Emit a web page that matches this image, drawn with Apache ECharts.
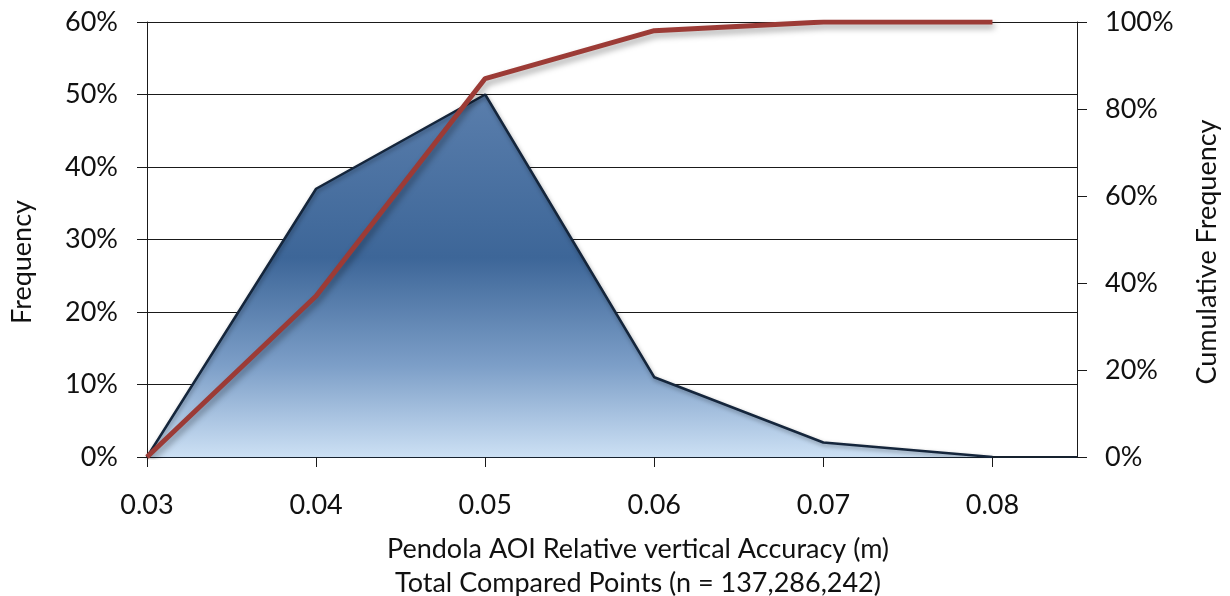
<!DOCTYPE html>
<html>
<head>
<meta charset="utf-8">
<script src="https://cdn.jsdelivr.net/npm/echarts@6/dist/echarts.min.js"></script>
<style>
  html, body { margin: 0; padding: 0; background: #ffffff; }
  #chart { width: 1230px; height: 596px; }
</style>
</head>
<body>
<div id="chart"></div>
<script>
// Accuracy bins (m)
const accuracyBins = [0.03, 0.04, 0.05, 0.06, 0.07, 0.08];
// Share of points in each bin (%)
const frequency = [0, 37, 50, 11, 2, 0];
// Running total of the shares (%)
const cumulativeFrequency = [0, 37, 87, 98, 100, 100];

const leftTicks = [0, 10, 20, 30, 40, 50, 60];
const rightTicks = [0, 20, 40, 60, 80, 100];

const xTitle = 'Pendola AOI Relative vertical Accuracy (m)';
const xSubtitle = 'Total Compared Points (n = 137,286,242)';
const leftTitle = 'Frequency';
const rightTitle = 'Cumulative Frequency';

const FONT = 'Lato, "Liberation Sans", sans-serif';
const FS = 27;
const TEXT = '#111111';

const freqPoints = accuracyBins.map((x, i) => [x, frequency[i]]);
const cumPoints = accuracyBins.map((x, i) => [x, cumulativeFrequency[i]]);

const chart = echarts.init(document.getElementById('chart'), null, { renderer: 'canvas' });

// vertical axis titles, reading bottom to top
function sideTitle(text, x, y) {
  return {
    type: 'text',
    x: x, y: y,
    rotation: Math.PI / 2,
    style: {
      text: text, fontFamily: FONT, fontSize: FS, fill: TEXT,
      align: 'center', verticalAlign: 'middle'
    }
  };
}

chart.setOption({
  animation: false,
  backgroundColor: '#ffffff',
  title: {
    text: xTitle + '\n' + xSubtitle,
    left: 633,
    top: 527,
    textAlign: 'center',
    textStyle: {
      fontFamily: FONT, fontSize: FS, fontWeight: 'normal', color: TEXT, lineHeight: 34
    }
  },
  graphic: [
    sideTitle(leftTitle, 22, 262),
    sideTitle(rightTitle, 1207, 252)
  ],
  grid: { left: 147, right: 153, top: 22, bottom: 139, containLabel: false },
  xAxis: {
    type: 'value',
    min: 0.03,
    max: 0.085,
    interval: 0.01,
    axisLine: { show: true, onZero: false, lineStyle: { color: '#17222f', width: 2 } },
    axisTick: { show: true, length: 10, lineStyle: { color: '#1a1a1a' }, customValues: accuracyBins },
    axisLabel: {
      customValues: accuracyBins,
      margin: 35,
      fontFamily: FONT, fontSize: FS, color: TEXT,
      formatter: v => v.toFixed(2)
    },
    splitLine: { show: false }
  },
  yAxis: [
    {
      type: 'value',
      min: leftTicks[0],
      max: leftTicks[leftTicks.length - 1],
      interval: 10,
      axisLine: { show: true, lineStyle: { color: '#1a1a1a', width: 1 } },
      axisTick: { show: true, length: 10, lineStyle: { color: '#1a1a1a' } },
      axisLabel: { margin: 29, fontFamily: FONT, fontSize: FS, color: TEXT, formatter: '{value}%' },
      splitLine: { show: true, lineStyle: { color: '#1a1a1a', width: 1 } }
    },
    {
      type: 'value',
      min: rightTicks[0],
      max: rightTicks[rightTicks.length - 1],
      interval: 20,
      position: 'right',
      axisLine: { show: true, lineStyle: { color: '#1a1a1a', width: 1 } },
      axisTick: { show: true, length: 10, lineStyle: { color: '#1a1a1a' } },
      axisLabel: { margin: 28, fontFamily: FONT, fontSize: FS, color: TEXT, formatter: '{value}%' },
      splitLine: { show: false }
    }
  ],
  series: [
    {
      name: 'Frequency',
      type: 'line',
      yAxisIndex: 0,
      data: freqPoints,
      symbol: 'none',
      z: 2,
      lineStyle: {
        color: '#15263c', width: 2.5,
        shadowColor: 'rgba(0,0,0,0.35)', shadowBlur: 4, shadowOffsetX: 1, shadowOffsetY: 2
      },
      areaStyle: {
        opacity: 1,
        color: new echarts.graphic.LinearGradient(0, 0, 0, 1, [
          { offset: 0, color: '#5a7eac' },
          { offset: 0.45, color: '#3d6698' },
          { offset: 0.75, color: '#7d9fc8' },
          { offset: 1, color: '#cce0f4' }
        ])
      }
    },
    {
      name: 'Cumulative Frequency',
      type: 'line',
      yAxisIndex: 1,
      data: cumPoints,
      symbol: 'none',
      z: 3,
      lineStyle: {
        color: '#9c3b36', width: 5,
        shadowColor: 'rgba(0,0,0,0.35)', shadowBlur: 6, shadowOffsetX: 2, shadowOffsetY: 4
      }
    }
  ]
});
</script>
</body>
</html>
